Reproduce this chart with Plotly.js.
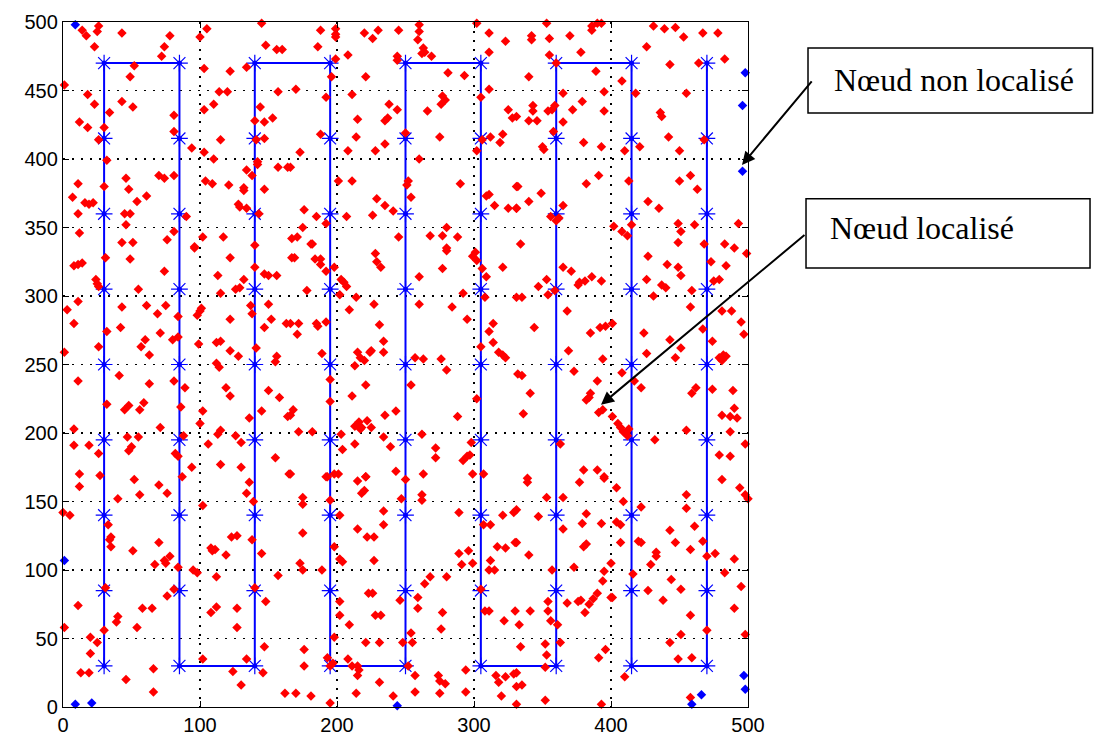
<!DOCTYPE html>
<html><head><meta charset="utf-8">
<script src="https://cdn.plot.ly/plotly-3.0.1.min.js"></script>
<style>html,body{margin:0;padding:0;background:#fff;}#chart{width:1094px;height:742px;}</style>
</head><body><div id="chart"></div>
<script>
// Sensor grid path: columns and rows of the anchor (mobile beacon) positions
const colsX = [30, 85, 140, 195, 250, 305, 360, 415, 470];
const rowsY = [30, 85, 140, 195, 250, 305, 360, 415, 470];

// Localized nodes (red)
const redX = [26,25,14,17,23,43,78,74,72,52,49,1,18,23,43,51,34,12,18,30,81,81,26,32,94,103,110,103,105,100,122,134,114,120,157,110,103,144,153,140,147,115,141,147,142,142,134,138,157,164,104,109,121,132,132,147,128,129,134,143,145,148,156,160,11,7,16,19,22,11,30,46,48,54,61,70,74,81,45,49,46,12,43,51,76,81,90,102,96,117,140,167,
188,199,199,199,186,199,208,220,226,230,245,260,260,259,263,264,262,269,244,244,196,221,281,293,302,311,323,311,170,192,211,238,244,237,235,215,266,277,279,276,305,311,325,328,188,214,208,228,235,250,275,260,173,166,306,312,319,321,302,201,211,252,251,254,229,235,241,226,207,185,176,175,171,182,192,245,268,277,280,288,290,309,311,315,325,331,331,280,
353,342,342,355,370,386,390,393,386,378,355,360,340,389,426,431,439,447,453,467,478,483,464,443,408,365,395,418,455,379,372,395,343,343,340,346,354,357,359,331,365,358,436,437,350,351,380,393,410,421,442,450,468,332,349,340,331,382,391,413,450,458,463,427,435,365,356,362,360,402,408,412,415,449,451,461,493,334,449,468,483,490,
31,49,8,11,14,74,24,25,26,55,96,122,113,115,126,129,132,140,147,150,156,167,11,3,8,43,61,69,75,84,98,100,101,42,32,71,60,57,63,80,84,99,26,1,122,137,138,150,152,147,163,112,115,122,128,141,156,155,112,114,11,41,63,81,89,119,122,150,158,164,32,45,48,56,59,86,102,100,136,145,8,71,115,113,126,130,47,55,88,8,19,50,48,26,82,84,106,155,94,115,130,165,
181,169,184,188,188,192,198,203,205,207,178,228,229,232,280,277,260,299,301,302,306,309,321,292,308,331,202,214,209,227,260,284,295,166,172,171,185,186,192,231,234,234,314,311,314,305,318,321,323,189,215,217,220,224,225,213,257,263,276,280,332,195,221,254,195,211,302,168,166,235,243,216,222,213,218,225,217,288,172,182,203,234,262,213,204,239,272,272,298,292,295,297,166,193,198,221,243,263,299,307,
365,371,353,347,354,359,376,377,381,386,393,335,368,344,385,392,396,401,369,394,373,335,390,341,385,382,384,336,391,394,401,405,407,409,412,411,413,363,432,427,441,449,451,426,437,440,431,458,424,426,443,451,447,408,417,422,459,473,475,479,484,499,481,488,495,497,467,474,479,482,484,481,459,462,474,489,490,481,487,492,487,498,455,479,487,380,390,395,339,
12,27,12,52,56,70,76,40,87,136,134,102,139,0,5,33,35,34,35,70,51,67,74,75,78,84,95,98,108,109,111,119,123,127,138,145,112,157,11,31,76,81,58,65,40,39,54,30,1,108,112,127,127,140,148,20,25,20,13,19,46,66,66,102,124,130,134,146,147,162,
192,201,215,221,218,220,175,175,195,234,234,215,222,227,202,198,175,247,250,262,262,289,321,329,307,312,317,323,330,289,296,291,299,312,311,315,204,202,227,173,175,189,268,264,280,223,226,246,259,259,202,202,209,228,232,277,276,305,308,311,322,330,198,221,231,248,254,255,176,176,193,197,195,208,211,215,216,215,252,257,231,274,279,275,294,170,181,195,214,241,257,275,294,316,318,323,329,320,331,
339,377,395,353,365,331,347,365,379,382,393,331,340,380,382,373,357,400,395,394,390,400,401,368,376,378,384,387,381,354,354,356,341,333,334,361,363,352,353,352,396,391,331,335,331,352,393,404,409,422,404,407,407,420,422,433,433,429,416,427,438,410,443,447,455,455,461,458,467,470,476,481,494,498,500,490,483,444,451,458,451,443,470,490,495,498,449,459,458];
const redY = [497,493,494,490,482,492,490,482,475,468,460,454,447,440,442,438,434,427,423,423,432,420,414,399,408,405,400,466,495,489,464,467,449,449,449,440,436,438,430,428,427,414,414,415,398,396,392,388,394,394,384,382,381,379,377,378,367,365,364,360,499,483,480,480,382,372,368,367,368,360,380,386,378,369,373,388,386,388,360,360,352,346,339,339,341,347,358,343,336,343,337,342,
494,495,491,489,482,473,476,492,488,494,494,498,493,487,481,478,477,475,475,472,460,460,463,461,499,492,486,478,451,445,447,440,436,430,428,429,435,446,443,440,445,451,436,430,418,416,406,406,411,419,416,400,405,394,414,416,412,418,406,384,384,384,381,372,371,366,362,359,358,358,363,350,343,338,353,343,344,344,350,343,382,373,374,366,364,364,380,335,
499,490,487,488,490,497,499,499,494,478,476,470,460,464,482,497,495,496,489,492,492,473,470,469,457,448,449,448,448,442,436,435,439,435,428,428,435,436,439,431,427,420,434,431,409,407,412,409,406,409,416,406,414,380,375,369,364,382,388,384,384,388,378,369,364,366,358,357,355,351,347,344,352,353,347,352,353,338,339,338,338,335,
328,327,322,323,324,318,312,309,307,305,335,328,315,302,305,306,312,321,316,315,315,328,296,290,280,292,293,287,293,285,286,289,291,277,274,273,268,263,257,268,270,265,263,259,283,293,287,294,283,277,280,266,267,260,256,262,256,252,251,248,238,242,236,238,233,233,227,231,226,212,221,217,220,217,222,219,216,207,211,216,203,204,202,199,198,193,197,197,198,191,191,190,187,185,185,183,192,182,175,177,175,170,
338,328,327,327,323,318,321,312,310,307,304,331,325,321,333,320,314,329,332,326,320,314,321,302,299,299,301,299,290,294,294,292,283,280,280,272,280,278,281,279,267,259,280,274,266,263,259,257,255,258,259,255,253,259,260,249,255,254,254,246,243,239,235,235,223,227,225,217,213,213,216,208,209,205,204,204,203,212,201,201,199,197,199,192,188,190,189,182,193,180,183,184,170,168,170,168,172,170,170,170,
321,318,312,307,301,304,308,310,311,314,311,299,289,277,273,277,278,280,260,254,245,242,238,229,229,224,226,214,215,217,212,207,204,201,198,200,203,192,195,329,323,321,315,312,308,306,300,292,273,258,268,262,255,244,238,233,304,325,311,312,322,331,289,289,281,272,276,267,255,257,256,253,229,233,232,231,218,213,212,211,201,192,202,184,183,173,173,168,167,
170,169,161,166,155,162,156,152,168,164,156,147,150,142,140,133,124,122,117,120,114,104,107,105,110,102,100,98,116,114,115,111,124,125,122,112,95,96,74,87,81,86,72,72,66,62,58,56,58,69,73,72,58,87,77,51,47,39,25,25,20,28,11,35,26,16,35,25,44,10,
168,170,165,168,156,158,153,148,151,143,133,130,124,124,140,117,127,152,166,155,151,142,140,142,133,133,117,116,120,112,114,104,105,107,100,100,106,108,107,105,100,100,95,90,95,83,83,78,80,72,77,67,60,67,67,69,57,86,70,70,63,70,51,47,47,47,54,47,42,30,36,32,30,35,30,30,27,23,30,23,18,23,17,19,27,10,8,3,10,8,11,10,11,23,18,22,24,8,2,
164,164,167,153,153,144,139,130,134,141,134,120,111,117,119,102,100,105,99,92,83,80,80,76,77,78,75,79,69,77,70,63,70,60,44,60,47,46,38,29,42,36,25,16,15,5,2,160,150,146,135,133,120,121,120,113,110,104,97,85,78,22,129,120,155,145,132,115,121,110,112,166,160,155,152,108,98,93,86,67,53,47,56,72,88,53,35,36,7];

// Non-localized nodes (blue)
const blueX = [9, 1, 9, 21, 244, 466, 459, 497, 498, 498, 496, 496];
const blueY = [498, 107, 2, 3, 1, 9, 2, 23, 13, 463, 439, 391];

const xTicks = [0, 100, 200, 300, 400, 500];
const yTicks = [0, 50, 100, 150, 200, 250, 300, 350, 400, 450, 500];

const labelNon = 'Nœud non localisé';
const labelLoc = 'Nœud localisé';

// build serpentine path from columns and rows
const pathX = [], pathY = [];
colsX.forEach((cx, i) => {
  const yStart = (i % 2 === 0) ? rowsY[0] : rowsY[rowsY.length - 1];
  const yEnd = (i % 2 === 0) ? rowsY[rowsY.length - 1] : rowsY[0];
  pathX.push(cx, cx); pathY.push(yStart, yEnd);
});
const starX = [], starY = [];
colsX.forEach(cx => rowsY.forEach(ry => { starX.push(cx); starY.push(ry); }));

const traces = [
  {x: pathX, y: pathY, type: 'scatter', mode: 'lines', line: {color: '#0000ff', width: 2}, hoverinfo: 'skip', cliponaxis: false},
  {x: starX, y: starY, type: 'scatter', mode: 'markers', marker: {symbol: 'asterisk-open', size: 14, color: '#0000ff', line: {color: '#0000ff', width: 1.2}}, cliponaxis: false},
  {x: starX, y: starY, type: 'scatter', mode: 'markers', marker: {symbol: 'circle', size: 5, color: '#0000ff'}, cliponaxis: false},
  {x: redX, y: redY, type: 'scatter', mode: 'markers', marker: {symbol: 'diamond', size: 7.3, color: '#ff0000'}, cliponaxis: false},
  {x: blueX, y: blueY, type: 'scatter', mode: 'markers', marker: {symbol: 'diamond', size: 7.3, color: '#0000ff'}, cliponaxis: false}
];

const axisCommon = {
  showline: true, linecolor: '#000', linewidth: 1.2, mirror: 'ticks',
  ticks: 'inside', ticklen: 6, tickcolor: '#000', tickwidth: 1,
  showgrid: true, gridcolor: '#000', gridwidth: 1.2, griddash: '2px,7px',
  zeroline: false, fixedrange: true,
  tickfont: {family: 'Liberation Sans, Arial, sans-serif', size: 20, color: '#000'}
};

const layout = {
  width: 1094, height: 742,
  margin: {l: 63, r: 346, t: 22, b: 35},
  paper_bgcolor: '#fff', plot_bgcolor: '#fff',
  showlegend: false,
  xaxis: Object.assign({}, axisCommon, {range: [0, 500], tickvals: xTicks, ticktext: xTicks.map(String)}),
  yaxis: Object.assign({}, axisCommon, {range: [0, 500], tickvals: yTicks, ticktext: yTicks.map(String)}),
  shapes: [
    {type: 'rect', xref: 'paper', yref: 'paper', x0: 1.0876, x1: 1.503, y0: 0.867, y1: 0.962, line: {color: '#000', width: 1.5}, fillcolor: '#fff'},
    {type: 'rect', xref: 'paper', yref: 'paper', x0: 1.0847, x1: 1.4993, y0: 0.641, y1: 0.742, line: {color: '#000', width: 1.5}, fillcolor: '#fff'}
  ],
  annotations: [
    {xref: 'paper', yref: 'paper', x: 1.1226, y: 0.9154, xanchor: 'left', yanchor: 'middle', text: labelNon, showarrow: false,
     font: {family: 'Liberation Serif, Times New Roman, serif', size: 32, color: '#000'}},
    {xref: 'paper', yref: 'paper', x: 1.1168, y: 0.6995, xanchor: 'left', yanchor: 'middle', text: labelLoc, showarrow: false,
     font: {family: 'Liberation Serif, Times New Roman, serif', size: 32, color: '#000'}},
    {x: 495.6, y: 395.7, xref: 'x', yref: 'y', text: '', showarrow: true, ax: 71, ay: -85, axref: 'pixel', ayref: 'pixel',
     arrowhead: 2, arrowsize: 1.3, arrowwidth: 2, arrowcolor: '#000', standoff: 0},
    {x: 392.7, y: 220.6, xref: 'x', yref: 'y', text: '', showarrow: true, ax: 205, ay: -171, axref: 'pixel', ayref: 'pixel',
     arrowhead: 2, arrowsize: 1.3, arrowwidth: 2, arrowcolor: '#000', standoff: 0}
  ]
};

Plotly.newPlot('chart', traces, layout, {displayModeBar: false, staticPlot: true});
</script>
</body></html>
